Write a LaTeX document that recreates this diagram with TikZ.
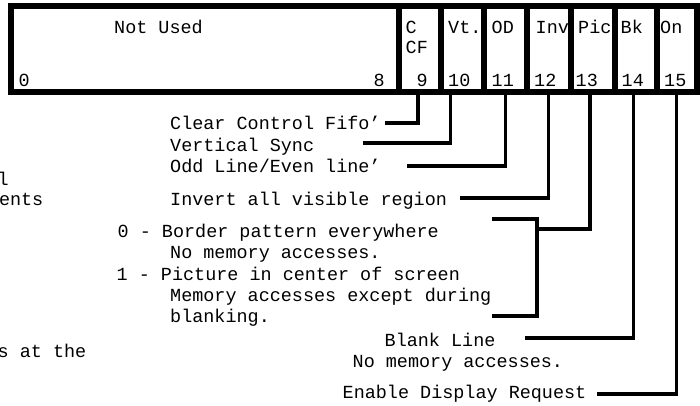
\documentclass[tikz,border=0pt]{standalone}
\usepackage{fontspec}
\setmonofont{Liberation Mono}

\begin{document}
\begin{tikzpicture}[x=1pt,y=-1pt,
    font=\ttfamily\fontsize{18.45}{21}\selectfont,
    cell/.style={draw, line width=6pt, inner sep=0, outer sep=0, minimum height=86pt},
    txt/.style={anchor=base west, inner sep=0},
    cut/.style={anchor=base east, inner sep=0},
    lead/.style={line width=3.2pt}]
            \useasboundingbox (0,0) rectangle (700,405);
            % register cells
            \foreach \n/\xl/\xr in {nu/11/399, b9/399/441, b10/441/483.5, b11/483.5/527,
            b12/527/570.5, b13/570.5/614.5, b14/614.5/657, b15/657/696.5}
            {
                \pgfmathsetmacro\w{\xr-\xl}
                \node[cell, minimum width=\w pt] (\n) at ({(\xl+\xr)/2},49) {};
            }
            \foreach \n/\x/\text in {nu/114/Not Used, c/405.5/C, vt/448/Vt., od/491.5/OD,
            inv/535.5/Inv, pic/578/Pic, bk/620.5/Bk, on/660/On}
            {
                \node[txt] (top\n) at (\x,33) {\text};
            }
            \node[txt] (cf) at (405.5,53) {CF};
            \foreach \n/\x in {0/18.5, 8/373.5, 9/416.5, 10/448, 11/491.5, 12/534,
            13/575.5, 14/621.5, 15/664}
            {
                \node[txt] (num\n) at (\x,86) {\n};
            }
            % descriptions
            \node[txt] (fifo) at (170,129.5) {Clear Control Fifo’};
            \node[txt] (sync) at (170,151) {Vertical Sync};
            \node[txt] (odd) at (170,172.5) {Odd Line/Even line’};
            \node[txt] (invert) at (170,205.5) {Invert all visible region};
            \node[txt] (border) at (117.5,237.5) {0 - Border pattern everywhere};
            \node[txt] (nomemA) at (170,258.5) {No memory accesses.};
            \node[txt] (picture) at (116.5,280) {1 - Picture in center of screen};
            \node[txt] (memacc) at (170,301) {Memory accesses except during};
            \node[txt] (blanking) at (170,322) {blanking.};
            \node[txt] (blank) at (384.5,346) {Blank Line};
            \node[txt] (nomemB) at (352.5,367) {No memory accesses.};
            \node[txt] (enable) at (342.5,398) {Enable Display Request};
            % text cut off at the left edge
            \node[cut] (cutA) at (9,185.5) {l};
            \node[cut] (cutB) at (43.5,205.5) {ents};
            \node[cut] (cutC) at (86.5,357) {s at the};
            % leads
            \coordinate (fifoend) at (385,123);
            \coordinate (syncend) at (363,143);
            \coordinate (oddend) at (407,166);
            \coordinate (invend) at (460,198);
            \coordinate (picend) at (537,229);
            \coordinate (pictop) at (492,219);
            \coordinate (picbot) at (492,316);
            \coordinate (blankend) at (525,338);
            \coordinate (enableend) at (597,394);
            \draw[lead] ([xshift=-2pt]b9.south) |- (fifoend);
            \draw[lead] ([xshift=-12pt]b10.south) |- (syncend);
            \draw[lead] (b11.south) |- (oddend);
            \draw[lead] (b12.south) |- (invend);
            \draw[lead] ([xshift=-2.5pt]b13.south) |- (picend);
            \draw[lead] (pictop) -- (pictop -| picend) -- (picbot -| picend) -- (picbot);
            \draw[lead] ([xshift=-2pt]b14.south) |- (blankend);
            \draw[lead] (b15.south) |- (enableend);
        \end{tikzpicture}
\end{document}
